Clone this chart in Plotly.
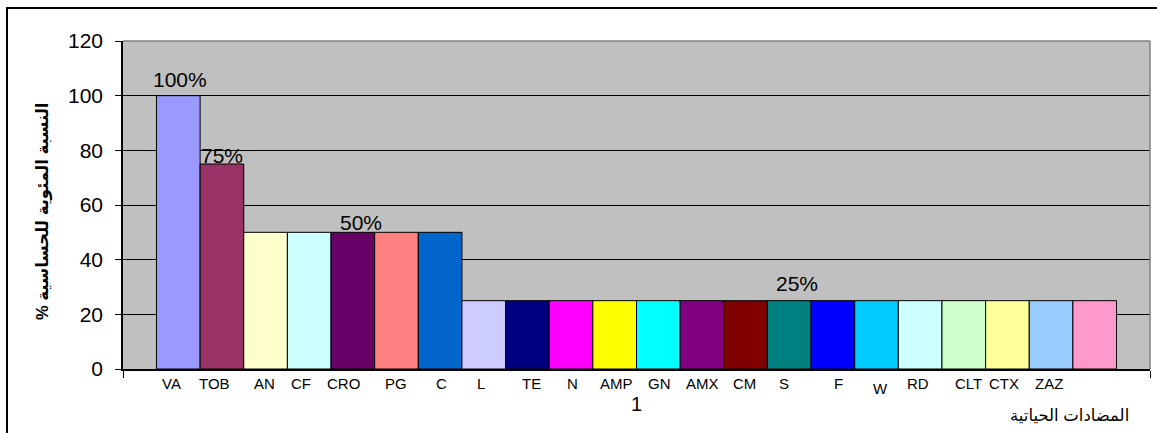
import plotly.graph_objects as go

# ---- data ----
antibiotics = ["VA", "TOB", "AN", "CF", "CRO", "PG", "C", "L", "TE", "N", "AMP",
               "GN", "AMX", "CM", "S", "F", "W", "RD", "CLT", "CTX", "ZAZ", ""]
sensitivity = [100, 75, 50, 50, 50, 50, 50, 25, 25, 25, 25,
               25, 25, 25, 25, 25, 25, 25, 25, 25, 25, 25]
bar_colors = ["#9999FF", "#993366", "#FFFFCC", "#CCFFFF", "#660066", "#FF8080",
              "#0066CC", "#CCCCFF", "#000080", "#FF00FF", "#FFFF00", "#00FFFF",
              "#800080", "#800000", "#008080", "#0000FF", "#00CCFF", "#CCFFFF",
              "#CCFFCC", "#FFFF99", "#99CCFF", "#FF99CC"]
category = ["1"]
pct_labels = ["100%", "75%", "50%", "25%"]
y_title = "% النسبة المئوية للحساسية"
x_title = "المضادات الحياتية"

# ---- layout constants (pixels) ----
W, H = 1157, 433
L, R, T, B = 123, 7, 41, 64
PW = W - L - R
PH = H - T - B

def px_x(px):
    return (px - L) / PW

def px_y(py):
    return (H - B - py) / PH

FONT = "Arial, Liberation Sans, DejaVu Sans, sans-serif"

fig = go.Figure()
for name, val, col in zip(antibiotics, sensitivity, bar_colors):
    fig.add_trace(go.Bar(
        x=category, y=[val], name=name,
        marker=dict(color=col, line=dict(color="black", width=1)),
        showlegend=False, hoverinfo="skip",
    ))

# label positions for the free-floating name text (pixel centres)
label_px = [171, 214, 264.6, 300.5, 343.4, 395.6, 441, 481, 531.7, 572.4, 616.8,
            659.5, 702.5, 744.7, 783.8, 838.8, 880, 918.3, 968.8, 1004, 1048.7]
label_py = [383.5] * 21
label_py[16] = 388

annotations = []
for name, x, y in zip(antibiotics[:21], label_px, label_py):
    annotations.append(dict(
        text=name, x=px_x(x), y=px_y(y), xref="paper", yref="paper",
        xanchor="center", yanchor="middle", showarrow=False,
        font=dict(family=FONT, size=15, color="black"),
    ))

pct_px = [(180, 79), (222, 155), (361, 222.5), (797, 283.5)]
for txt, (x, y) in zip(pct_labels, pct_px):
    annotations.append(dict(
        text=txt, x=px_x(x), y=px_y(y), xref="paper", yref="paper",
        xanchor="center", yanchor="middle", showarrow=False,
        font=dict(family=FONT, size=21, color="black"),
    ))

annotations.append(dict(
    text="<b>" + y_title + "</b>", x=px_x(43), y=px_y(211), xref="paper", yref="paper",
    xanchor="center", yanchor="middle", showarrow=False, textangle=-90,
    font=dict(family=FONT, size=16.5, color="black"),
))
annotations.append(dict(
    text=x_title, x=px_x(1069), y=px_y(415), xref="paper", yref="paper",
    xanchor="center", yanchor="middle", showarrow=False,
    font=dict(family=FONT, size=16.5, color="black"),
))

shapes = [
    # plot-area top and right border (grey)
    dict(type="line", xref="paper", yref="paper", x0=0, x1=1, y0=1, y1=1,
         line=dict(color="#808080", width=1.5)),
    dict(type="line", xref="paper", yref="paper", x0=1, x1=1, y0=0, y1=1,
         line=dict(color="#808080", width=1.5)),
    # chart-area border
    dict(type="rect", xref="paper", yref="paper", x0=px_x(7), x1=px_x(1200),
         y0=px_y(500), y1=px_y(8), line=dict(color="black", width=2),
         fillcolor="rgba(0,0,0,0)"),
]

fig.update_layout(
    width=W, height=H,
    margin=dict(l=L, r=R, t=T, b=B, pad=0),
    paper_bgcolor="white", plot_bgcolor="#C0C0C0",
    barmode="group", bargap=0.0652, bargroupgap=0,
    font=dict(family=FONT, color="black"),
    annotations=annotations, shapes=shapes,
    xaxis=dict(
        type="category", tickson="boundaries", ticks="outside", ticklen=7,
        tickcolor="black", tickwidth=1, showline=True, linecolor="black",
        linewidth=1.5, showgrid=False, ticklabelstandoff=16,
        tickfont=dict(family=FONT, size=20, color="black"),
    ),
    yaxis=dict(
        range=[0, 120], dtick=20, ticks="outside", ticklen=6, tickcolor="black",
        showline=True, linecolor="black", linewidth=1.5, showgrid=True,
        gridcolor="black", gridwidth=1, zeroline=False, ticklabelstandoff=8,
        tickfont=dict(family=FONT, size=21, color="black"),
    ),
)

fig.write_html(
    "out.html",
    config={"displayModeBar": False},
    post_script="document.body.style.margin='0';document.body.style.overflow='hidden';",
)
